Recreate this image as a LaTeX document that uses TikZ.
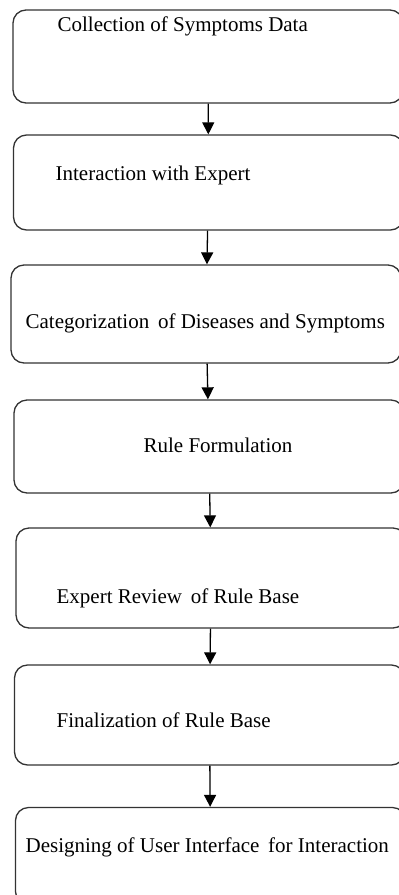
\documentclass[tikz,border=0pt]{standalone}
\usepackage{fontspec}
\setmainfont{Liberation Serif}
\usetikzlibrary{arrows.meta,positioning}

\begin{document}
\begin{tikzpicture}[x=1pt, y=-1pt, line width=1.3pt, >={Triangle[length=12pt,width=12pt]},
  stage/.style={draw=black!80, rounded corners=13pt, minimum width=390pt, inner sep=0pt},
  caption/.style={anchor=base west, inner sep=0pt, font=\fontsize{21}{24}\selectfont}]

\useasboundingbox (0,0) rectangle (399,895);
\clip (0,0) rectangle (399,895);

\node[stage, minimum height=93pt]  (collect)   at (208,56.5)  {};
\node[stage, minimum height=95pt]  (interact)  at (208.5,182.5) {};
\node[stage, minimum height=98pt]  (categ)     at (206,314)   {};
\node[stage, minimum height=93pt]  (rules)     at (209,446.5) {};
\node[stage, minimum height=100pt] (review)    at (211,578)   {};
\node[stage, minimum height=100pt] (final)     at (209.5,715) {};
\node[stage, minimum height=97pt]  (design)    at (210.5,856) {};

\node[caption] (tcollect)  at (57,31)  {Collection of Symptoms Data};
\node[caption] (tinteract) at (55,180) {Interaction with Expert};
\node[caption] (tcateg)    at (25,328) {Categorization\, of Diseases and Symptoms};
\node[caption] (trules)    at (143,452) {Rule Formulation};
\node[caption] (treview)   at (56,603) {Expert Review\, of Rule Base};
\node[caption] (tfinal)    at (56,727) {Finalization of Rule Base};
\node[caption] (tdesign)   at (25,852) {Designing of User Interface\, for Interaction};

\path[->]
      (collect)  edge (interact)
      (interact) edge (categ)
      (categ)    edge (rules)
      (rules)    edge (review)
      (review)   edge (final)
      (final)    edge (design);
\end{tikzpicture}
\end{document}
